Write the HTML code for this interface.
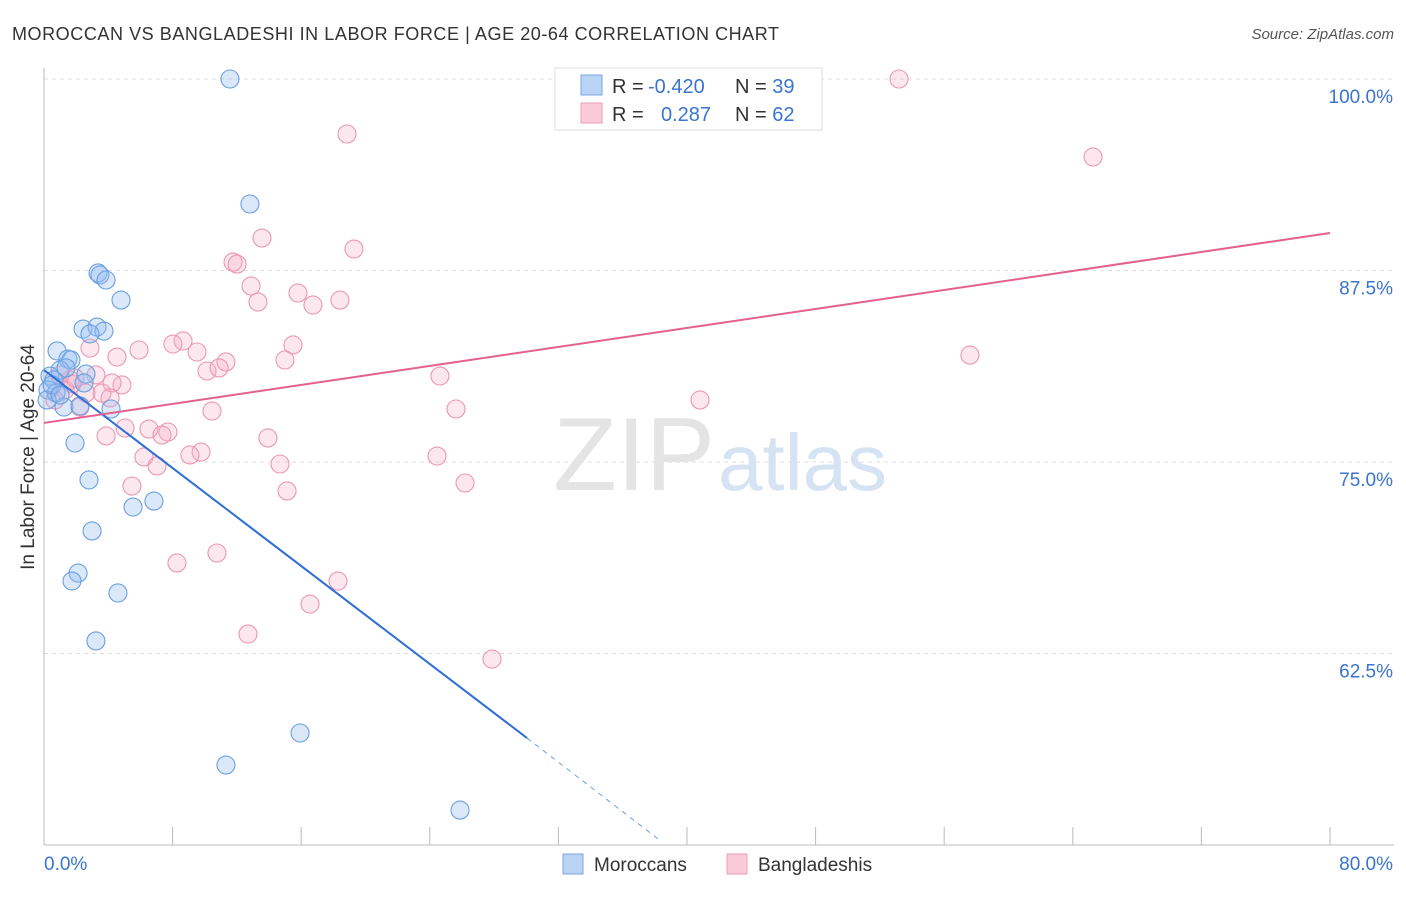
<!DOCTYPE html>
<html><head><meta charset="utf-8"><style>
body{margin:0;background:#fff;font-family:"Liberation Sans",sans-serif}
svg text{font-family:"Liberation Sans",sans-serif}
</style></head><body>
<svg id="chart" width="1406" height="892" xmlns="http://www.w3.org/2000/svg">
<text x="12" y="40" font-size="18" fill="#333" textLength="767" lengthAdjust="spacing">MOROCCAN VS BANGLADESHI IN LABOR FORCE | AGE 20-64 CORRELATION CHART</text>
<text x="1394" y="39" font-size="15" fill="#555" font-style="italic" text-anchor="end">Source: ZipAtlas.com</text>
<text transform="translate(34,457) rotate(-90)" font-size="19" fill="#333" text-anchor="middle">In Labor Force | Age 20-64</text>
<g id="grid"></g>
<text x="715" y="490" font-size="104" fill="#e4e4e4" text-anchor="end" font-family="Liberation Serif">ZIP</text>
<text x="718" y="490" font-size="80" fill="#d6e3f3">atlas</text>
<g id="pts"></g>
<g id="lines"></g>
<g>
<rect x="555" y="68" width="267" height="62" fill="#fff" stroke="#ddd"/>
<rect x="581" y="75" width="21" height="20" fill="#b9d3f5" stroke="#7aa7e2"/>
<rect x="581" y="103" width="21" height="20" fill="#fbcad8" stroke="#ee9db9"/>
<text x="612" y="93" font-size="20" fill="#333">R = <tspan fill="#3a74d0" x="648">-0.420</tspan><tspan x="735">N = </tspan><tspan fill="#3a74d0">39</tspan></text>
<text x="612" y="121" font-size="20" fill="#333">R = <tspan fill="#3a74d0" x="661">0.287</tspan><tspan x="735">N = </tspan><tspan fill="#3a74d0">62</tspan></text>
</g>
<g>
<rect x="563" y="854" width="20" height="20" fill="#b9d3f5" stroke="#7aa7e2"/>
<text x="594" y="871" font-size="19" fill="#333">Moroccans</text>
<rect x="727" y="854" width="20" height="20" fill="#fbcad8" stroke="#ee9db9"/>
<text x="758" y="871" font-size="19" fill="#333">Bangladeshis</text>
</g>
</svg>
<script>
const blueX=[11.57,12.81,3.36,3.48,3.86,4.79,2.43,3.30,3.73,2.86,0.81,1.49,1.68,1.0,1.37,2.61,0.37,0.62,0.25,0.75,2.49,0.19,1.24,2.24,4.17,1.93,2.8,6.84,5.54,2.99,2.12,1.74,4.6,3.23,15.93,11.32,25.88,0.5,1.0];
const blueY=[100,91.84,87.34,87.21,86.88,85.57,83.68,83.81,83.55,83.36,82.25,81.72,81.66,81.0,81.14,80.74,80.61,80.35,79.7,79.5,80.16,79.05,78.59,78.66,78.46,76.24,73.83,72.45,72.06,70.5,67.75,67.23,66.45,63.32,57.31,55.22,52.28,80.03,79.37];
const pinkX=[53.19,18.85,65.26,13.56,19.28,11.76,12.01,12.88,15.8,13.31,16.73,18.41,8.65,8.02,2.86,5.91,15.49,9.52,4.54,11.32,14.99,10.14,10.89,57.6,3.23,24.63,1.74,4.85,3.61,4.23,2.61,2.24,10.45,25.63,40.81,5.04,6.53,7.71,3.86,7.34,13.93,9.77,9.08,6.22,7.03,24.45,14.68,5.47,26.19,15.12,10.76,8.27,18.29,16.55,12.69,27.87,1.62,1.0,1.31,1.93,0.68,4.11];
const pinkY=[100,96.41,94.91,89.62,88.9,88.05,87.92,86.49,86.03,85.44,85.25,85.57,82.9,82.7,82.44,82.31,82.64,82.18,81.85,81.53,81.66,80.94,81.14,81.98,80.68,80.61,80.09,80.03,79.5,80.16,79.5,78.59,78.33,78.46,79.05,77.22,77.15,76.96,76.7,76.76,76.57,75.65,75.46,75.33,74.74,75.39,74.87,73.43,73.63,73.11,69.06,68.41,67.23,65.73,63.77,62.14,80.35,80.68,79.7,80.48,79.05,79.18];
const yTicks=[100,87.5,75,62.5];
const yTickLabels=["100.0%","87.5%","75.0%","62.5%"];
const xTicks=[0,8,16,24,32,40,48,56,64,72,80];
const blueTrend=[[0,81.0],[30.05,56.98],[38.32,50.3]];
const pinkTrend=[[0,77.55],[80,89.95]];
const NS="http://www.w3.org/2000/svg";
const sx=v=>44+v/80*1286, sy=v=>79+(100-v)*15.32;
function mk(t,a,p){const e=document.createElementNS(NS,t);for(const k in a)e.setAttribute(k,a[k]);p.appendChild(e);return e;}
const grid=document.getElementById('grid');
yTicks.forEach((t,i)=>{
 const l=mk('line',{x1:44,x2:1394,y1:sy(t),y2:sy(t),stroke:'#ddd','stroke-dasharray':'4,4'},grid);
 
 
 const tx=mk('text',{x:1393,y:sy(t)+24,'font-size':19,fill:'#3a74d0','text-anchor':'end'},grid);
 tx.textContent=yTickLabels[i];
 
 
});
const ax=mk('line',{x1:44,x2:1394,y1:845,y2:845,stroke:'#bbb'},grid);


const ay=mk('line',{x1:44,x2:44,y1:68,y2:845,stroke:'#bbb'},grid);


xTicks.forEach(t=>{const l=mk('line',{x1:sx(t),x2:sx(t),y1:827,y2:845,stroke:'#bbb'},grid);
 
 });
const x0=mk('text',{x:44,y:870,'font-size':19,fill:'#3a74d0'},grid);x0.textContent='0.0%';


const x1=mk('text',{x:1393,y:870,'font-size':19,fill:'#3a74d0','text-anchor':'end'},grid);x1.textContent='80.0%';


const pts=document.getElementById('pts');
pinkX.forEach((x,i)=>{const c=mk('circle',{cx:sx(x),cy:sy(pinkY[i]),r:9,fill:'rgba(246,176,200,0.3)',stroke:'#eb97b4','stroke-width':1.1},pts);
 
 });
blueX.forEach((x,i)=>{const c=mk('circle',{cx:sx(x),cy:sy(blueY[i]),r:9,fill:'rgba(150,190,240,0.35)',stroke:'#6a9fe0','stroke-width':1.1},pts);
 
 });
const lines=document.getElementById('lines');
const b1=mk('line',{x1:sx(blueTrend[0][0]),y1:sy(blueTrend[0][1]),x2:sx(blueTrend[1][0]),y2:sy(blueTrend[1][1]),stroke:'#2f6fd6','stroke-width':2},lines);


const b2=mk('line',{x1:sx(blueTrend[1][0]),y1:sy(blueTrend[1][1]),x2:sx(blueTrend[2][0]),y2:sy(blueTrend[2][1]),stroke:'#6a9fe0','stroke-width':1,'stroke-dasharray':'5,5'},lines);


const p1=mk('line',{x1:sx(pinkTrend[0][0]),y1:sy(pinkTrend[0][1]),x2:sx(pinkTrend[1][0]),y2:sy(pinkTrend[1][1]),stroke:'#e4608e','stroke-width':2},lines);


</script>
</body></html>
